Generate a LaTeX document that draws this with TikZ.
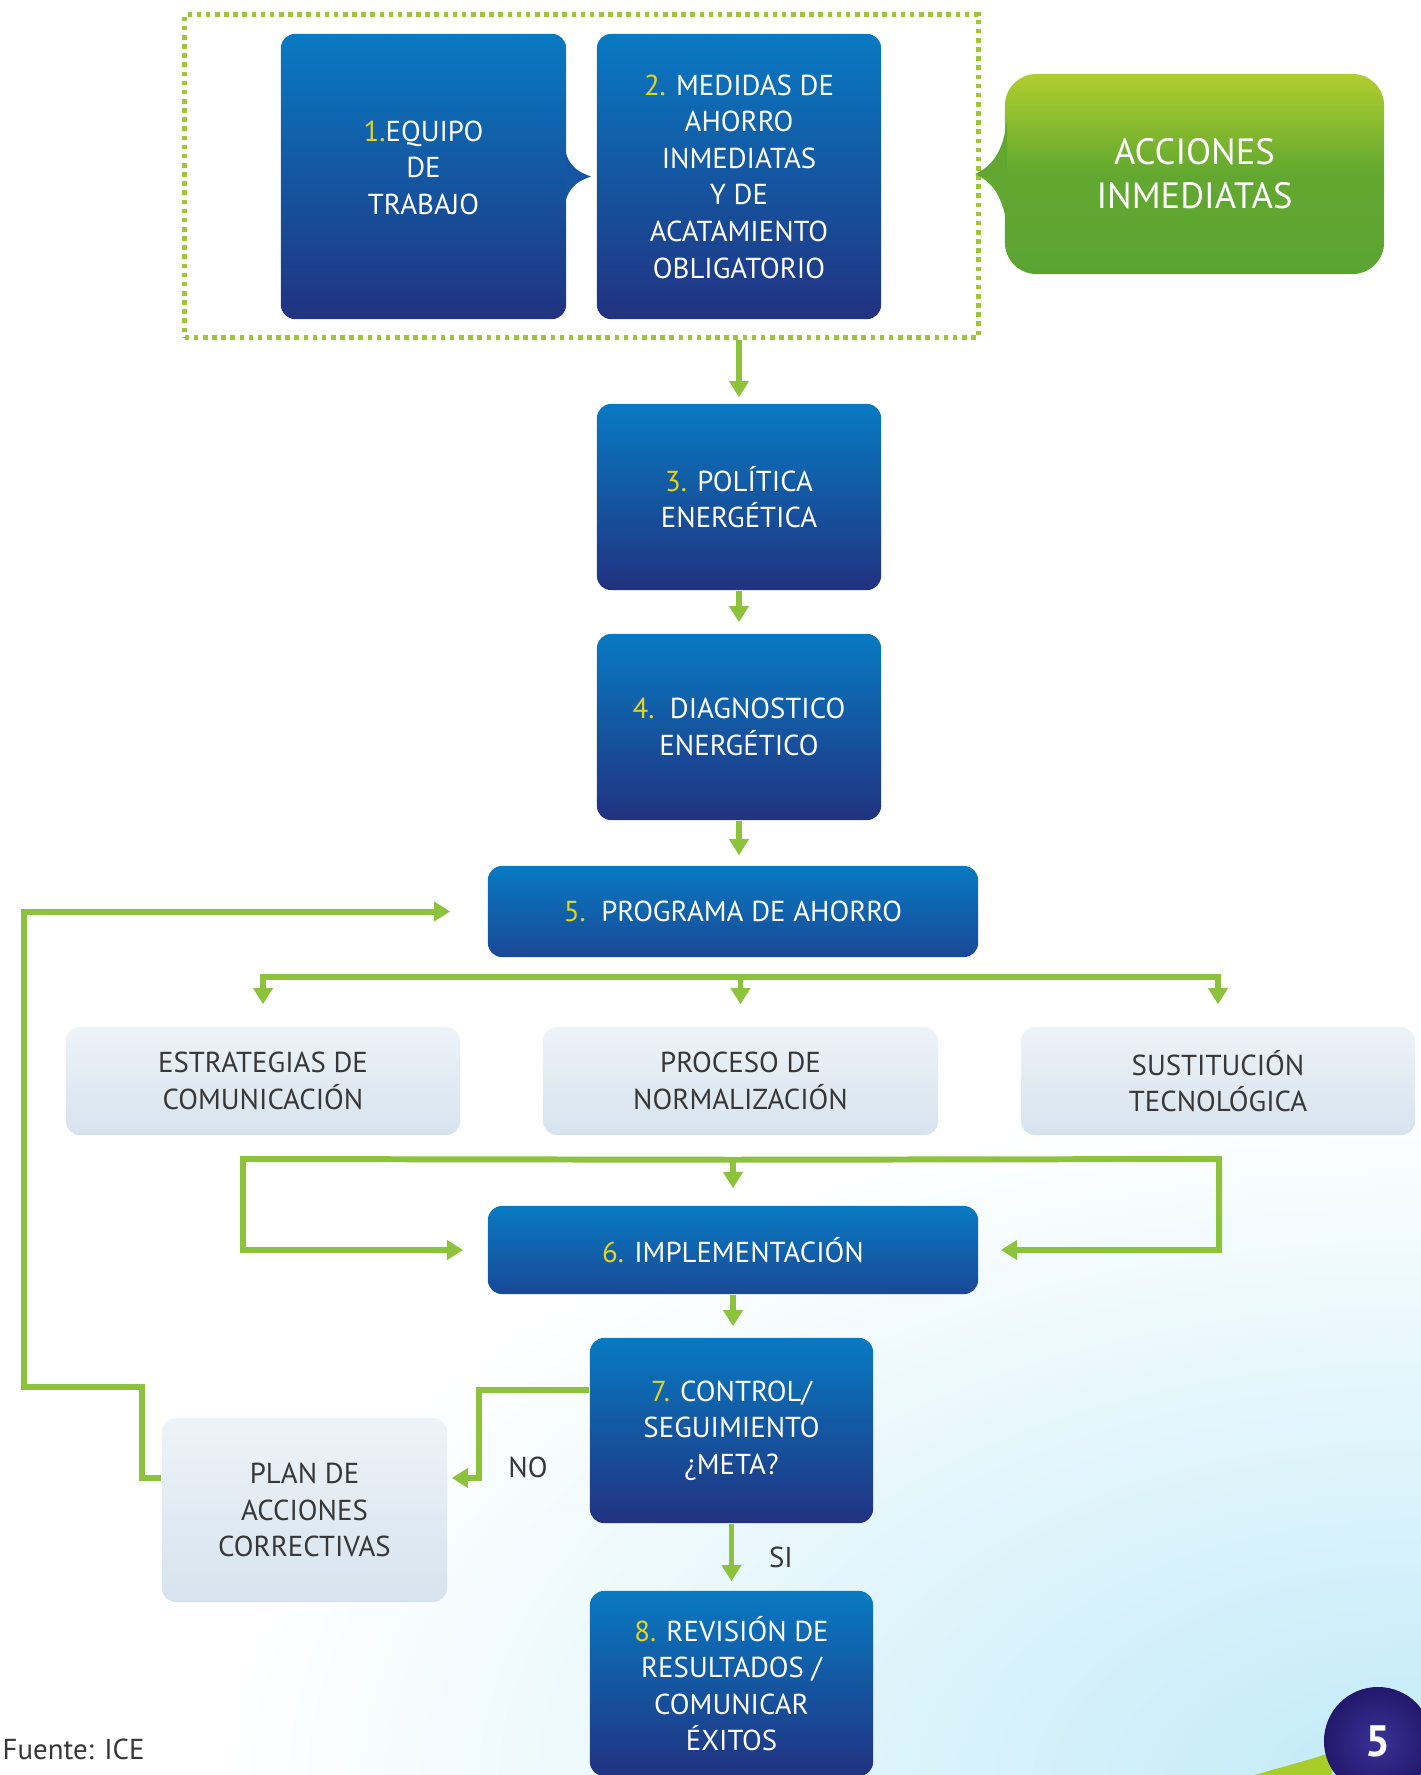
\documentclass[tikz,border=0pt]{standalone}
\usepackage{fontspec}
\setmainfont{PT Sans}
\usetikzlibrary{arrows.meta,calc}
\definecolor{btop}{RGB}{8,122,194}
\definecolor{bbot}{RGB}{33,50,128}
\definecolor{bbottwo}{RGB}{26,72,150}
\definecolor{bmid}{RGB}{20,86,161}
\definecolor{gtop}{RGB}{238,243,248}
\definecolor{gbot}{RGB}{214,227,238}
\definecolor{grtop}{RGB}{176,206,46}
\definecolor{grmid}{RGB}{98,168,48}
\definecolor{grbot}{RGB}{92,164,50}
\definecolor{arrowg}{RGB}{140,194,60}
\definecolor{dotg}{RGB}{158,198,58}
\definecolor{numy}{RGB}{228,212,30}
\definecolor{txtg}{RGB}{55,55,55}
\definecolor{navyin}{RGB}{58,50,150}
\definecolor{navyout}{RGB}{34,24,108}
\definecolor{lblue}{RGB}{192,234,248}
\definecolor{swoosh}{RGB}{168,204,40}
\definecolor{cornerblue}{RGB}{20,110,190}
\newcommand\numc[1]{\textcolor{numy}{#1}}
\begin{document}
\begin{tikzpicture}[x=0.01cm,y=-0.01cm,
  base/.style={inner sep=0pt, align=center, font=\fontsize{8.2}{10.4}\selectfont},
  bluebox/.style={base, rounded corners=4pt, top color=btop, bottom color=bbot, text=white},
  bluewide/.style={bluebox, bottom color=bbottwo},
  graybox/.style={base, rounded corners=4pt, top color=gtop, bottom color=gbot, text=txtg},
  greenbox/.style={base, rounded corners=9pt, top color=grtop, bottom color=grbot, middle color=grmid, text=white, font=\fontsize{10.4}{12.5}\selectfont},
  ln/.style={draw=arrowg, line width=1.7pt},
  arr/.style={ln, -{Triangle[width=5.4pt,length=4.6pt]}},
  lbl/.style={base, text=txtg}]
\useasboundingbox (0,0) rectangle (1421,1775);
% background tint
\begin{scope}
  \clip (0,0) rectangle (1421,1775);
  \shade[inner color=lblue, outer color=white] (1421,1790) ellipse (1200 and 700);
\end{scope}

% group
\node[draw=dotg, line width=1.4pt, dash pattern=on 1.3pt off 1.3pt, minimum width=7.93cm, minimum height=3.22cm, inner sep=0pt] (grp) at (581.5,176) {};

% boxes
\node[bluebox, minimum width=2.85cm, minimum height=2.85cm] (b1) at (423.5,176.5) {\numc{1.}EQUIPO\\DE\\TRABAJO\\[-5.2pt]};
\fill[bmid] ($(b1.east)+(-2,-28)$) .. controls ($(b1.east)+(2,-8)$) and ($(b1.east)+(14,-4)$) .. ($(b1.east)+(24,0)$) .. controls ($(b1.east)+(14,4)$) and ($(b1.east)+(2,8)$) .. ($(b1.east)+(-2,28)$) -- cycle;
\node[bluebox, minimum width=2.84cm, minimum height=2.85cm] (b2) at (739,176.5) {\numc{2.} MEDIDAS DE\\AHORRO\\INMEDIATAS\\Y DE\\ACATAMIENTO\\OBLIGATORIO};

\node[greenbox, minimum width=3.79cm, minimum height=2.0cm] (acc) at (1194.5,174) {ACCIONES\\INMEDIATAS};
\fill[grmid] ($(acc.west)+(3,-54)$) .. controls ($(acc.west)+(-1,-22)$) and ($(acc.west)+(-12,-8)$) .. ($(acc.west)+(-29,0)$) .. controls ($(acc.west)+(-12,8)$) and ($(acc.west)+(-1,22)$) .. ($(acc.west)+(3,54)$) -- cycle;

\node[bluebox, minimum width=2.84cm, minimum height=1.86cm] (b3) at (739,497) {\numc{3.} POLÍTICA\\ENERGÉTICA};
\node[bluebox, minimum width=2.84cm, minimum height=1.86cm] (b4) at (739,727) {\numc{4.}\ \ DIAGNOSTICO\\ENERGÉTICO};
\node[bluewide, minimum width=4.9cm, minimum height=0.91cm] (b5) at (733,911.5) {\numc{5.}\ \ PROGRAMA DE AHORRO};

\node[graybox, minimum width=3.94cm, minimum height=1.08cm] (E) at (263,1081) {ESTRATEGIAS DE\\COMUNICACIÓN};
\node[graybox, minimum width=3.95cm, minimum height=1.08cm] (P) at (740.5,1081) {PROCESO DE\\NORMALIZACIÓN};
\node[graybox, minimum width=3.94cm, minimum height=1.08cm] (S) at (1218,1081) {SUSTITUCIÓN\\TECNOLÓGICA};

\node[bluewide, minimum width=4.9cm, minimum height=0.88cm] (b6) at (733,1250) {\numc{6.} IMPLEMENTACIÓN};
\node[bluebox, minimum width=2.83cm, minimum height=1.85cm] (b7) at (731.5,1430.5) {\numc{7.} CONTROL/\\SEGUIMIENTO\\¿META?};
\node[graybox, minimum width=2.85cm, minimum height=1.84cm] (plan) at (304.5,1510) {PLAN DE\\ACCIONES\\CORRECTIVAS};
\node[bluebox, minimum width=2.83cm, minimum height=1.85cm] (b8) at (731.5,1683.5) {\numc{8.} REVISIÓN DE\\RESULTADOS /\\COMUNICAR\\ÉXITOS};

\node[lbl] (no) at (528,1467) {NO};
\node[lbl] (si) at (781,1557) {SI};
\node[lbl, anchor=west] (src) at (2,1749) {Fuente: ICE};

% connectors
\draw[arr] (b3.north |- grp.south) -- ($(b3.north)+(0,-6)$);
\draw[arr] (b3.south) -- ($(b4.north)+(0,-11)$);
\draw[arr] (b4.south) -- ($(b4.south |- b5.north)+(0,-10)$);

\coordinate (bar1) at ($(b5.south)+(0,19)$);
\draw[arr, shorten >=0.22cm] (P.north |- bar1) -| (E.north);
\draw[arr, shorten >=0.22cm] (P.north |- bar1) -| (S.north);
\draw[arr, shorten >=0.22cm] (P.north |- bar1) -- (P.north);

\coordinate (bar2) at ($(E.south)+(0,24)$);
\coordinate (L2) at (243,1159);
\coordinate (R2) at (1219,1159);
\draw[arr] (b6.north |- bar2) -- (L2) |- ($(b6.west)+(-24,0)$);
\draw[arr] (b6.north |- bar2) -- (R2) |- ($(b6.east)+(22,0)$);
\draw[arr] (b6.north |- bar2) -- ($(b6.north)+(0,-17)$);

\draw[arr] (b6.south) -- ($(b6.south |- b7.north)+(0,-11)$);

\coordinate (n1) at ($(b7.north west)+(0,53)$);
\coordinate (nk) at (479,1478);
\coordinate (pe) at ($(plan.east)+(4,-32)$);
\draw[arr] (n1) -| (nk) -- (pe);

\coordinate (f0) at ($(plan.west)+(0,-32)$);
\coordinate (fk1) at (142,1387);
\coordinate (fk2) at (24,1387);
\draw[arr] (f0) -| (fk1) -- (fk2) |- ($(b5.west)+(-37,0)$);

\draw[arr] (b7.south) -- ($(b7.south |- b8.north)+(0,-9)$);

% corner decoration
\fill[swoosh] (1255,1775) .. controls (1285,1766) and (1310,1760) .. (1332,1752) -- (1332,1775) -- cycle;
\fill[cornerblue, rounded corners=2pt] (1408,1752) rectangle (1430,1790);
\node[circle, minimum size=1.08cm, inner sep=0pt, inner color=navyin, outer color=navyout, text=white, font=\bfseries\fontsize{12.5}{12.5}\selectfont] (pg) at (1378,1741) {5};
\end{tikzpicture}
\end{document}
